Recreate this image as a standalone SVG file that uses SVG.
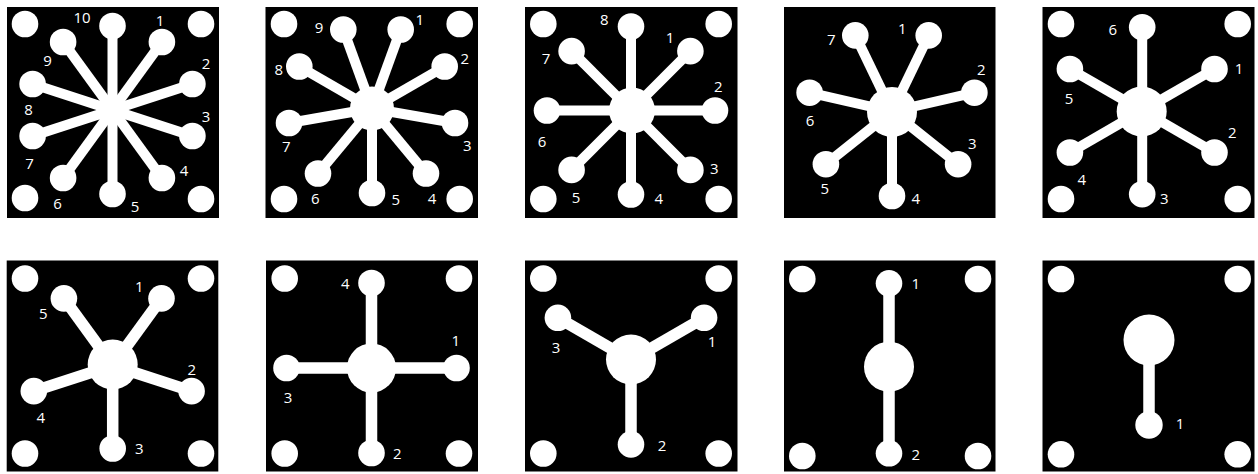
<svg xmlns="http://www.w3.org/2000/svg" width="1258" height="474" viewBox="0 0 1258 474">
<style>
.bg{fill:#fff}
.panel{fill:#000}
.dot{fill:#fff}
.hub{fill:#fff}
.sp{stroke:#fff;stroke-width:10;fill:none}
.sp2{stroke:#fff;stroke-width:11.5;fill:none}
.lbl{fill:#fff;font-family:"Open Sans","Noto Sans","DejaVu Sans",sans-serif;font-size:15px;text-anchor:middle}
</style>
<rect class="bg" x="0" y="0" width="1258" height="474"/>

<!-- Panel 1: 10 channels -->
<g id="panel-1">
<rect class="panel" x="7" y="7" width="212" height="211"/>
<circle class="dot" cx="25" cy="24" r="13.3"/><circle class="dot" cx="201" cy="24" r="13.3"/>
<circle class="dot" cx="25" cy="198" r="13.3"/><circle class="dot" cx="201" cy="199" r="13.3"/>
<g id="panel-1-connectors" class="sp">
<line x1="112.5" y1="110" x2="112.5" y2="26"/>
<line x1="112.5" y1="110" x2="161.9" y2="42"/>
<line x1="112.5" y1="110" x2="192.4" y2="84"/>
<line x1="112.5" y1="110" x2="192.4" y2="136"/>
<line x1="112.5" y1="110" x2="161.9" y2="178"/>
<line x1="112.5" y1="110" x2="112.5" y2="194"/>
<line x1="112.5" y1="110" x2="63.1" y2="178"/>
<line x1="112.5" y1="110" x2="32.6" y2="136"/>
<line x1="112.5" y1="110" x2="32.6" y2="84"/>
<line x1="112.5" y1="110" x2="63.1" y2="42"/>
</g>
<circle class="hub" cx="112.5" cy="110" r="14"/>
<circle class="dot" cx="112.5" cy="26" r="13.3"/><circle class="dot" cx="161.9" cy="42" r="13.3"/>
<circle class="dot" cx="192.4" cy="84" r="13.3"/><circle class="dot" cx="192.4" cy="136" r="13.3"/>
<circle class="dot" cx="161.9" cy="178" r="13.3"/><circle class="dot" cx="112.5" cy="194" r="13.3"/>
<circle class="dot" cx="63.1" cy="178" r="13.3"/><circle class="dot" cx="32.6" cy="136" r="13.3"/>
<circle class="dot" cx="32.6" cy="84" r="13.3"/><circle class="dot" cx="63.1" cy="42" r="13.3"/>
<text class="lbl" x="82" y="23">10</text>
<text class="lbl" x="160" y="26">1</text>
<text class="lbl" x="206" y="69">2</text>
<text class="lbl" x="206" y="122">3</text>
<text class="lbl" x="184" y="176">4</text>
<text class="lbl" x="135" y="212">5</text>
<text class="lbl" x="57.5" y="209">6</text>
<text class="lbl" x="29.5" y="169">7</text>
<text class="lbl" x="28.5" y="115">8</text>
<text class="lbl" x="47.5" y="66">9</text>
</g>

<!-- Panel 2: 9 channels -->
<g id="panel-2">
<rect class="panel" x="265.5" y="7" width="212.5" height="211"/>
<circle class="dot" cx="284" cy="24" r="13.3"/><circle class="dot" cx="459.7" cy="24" r="13.3"/>
<circle class="dot" cx="284" cy="199" r="13.3"/><circle class="dot" cx="459.7" cy="199" r="13.3"/>
<g id="panel-2-connectors" class="sp">
<line x1="372" y1="108.5" x2="400.7" y2="29.5"/>
<line x1="372" y1="108.5" x2="444.7" y2="66.5"/>
<line x1="372" y1="108.5" x2="455" y2="123"/>
<line x1="372" y1="108.5" x2="426" y2="173.5"/>
<line x1="372" y1="108.5" x2="372" y2="193"/>
<line x1="372" y1="108.5" x2="318" y2="173.5"/>
<line x1="372" y1="108.5" x2="289" y2="123"/>
<line x1="372" y1="108.5" x2="299.3" y2="66.5"/>
<line x1="372" y1="108.5" x2="343.3" y2="29.5"/>
</g>
<circle class="hub" cx="372" cy="108.5" r="22"/>
<circle class="dot" cx="400.7" cy="29.5" r="13.3"/><circle class="dot" cx="444.7" cy="66.5" r="13.3"/>
<circle class="dot" cx="455" cy="123" r="13.3"/><circle class="dot" cx="426" cy="173.5" r="13.3"/>
<circle class="dot" cx="372" cy="193" r="13.3"/><circle class="dot" cx="318" cy="173.5" r="13.3"/>
<circle class="dot" cx="289" cy="123" r="13.3"/><circle class="dot" cx="299.3" cy="66.5" r="13.3"/>
<circle class="dot" cx="343.3" cy="29.5" r="13.3"/>
<text class="lbl" x="419.7" y="25">1</text>
<text class="lbl" x="464.7" y="64">2</text>
<text class="lbl" x="467.3" y="151">3</text>
<text class="lbl" x="432" y="204">4</text>
<text class="lbl" x="395.7" y="205">5</text>
<text class="lbl" x="315.3" y="204">6</text>
<text class="lbl" x="286.3" y="152">7</text>
<text class="lbl" x="278.7" y="75">8</text>
<text class="lbl" x="319" y="33">9</text>
</g>

<!-- Panel 3: 8 channels -->
<g id="panel-3">
<rect class="panel" x="525" y="7" width="212.5" height="211"/>
<circle class="dot" cx="543.3" cy="24" r="13.3"/><circle class="dot" cx="718.7" cy="24" r="13.3"/>
<circle class="dot" cx="543.3" cy="199" r="13.3"/><circle class="dot" cx="718.7" cy="199" r="13.3"/>
<g id="panel-3-connectors" class="sp">
<line x1="631" y1="110.5" x2="631" y2="26.5"/>
<line x1="631" y1="110.5" x2="690.4" y2="51.1"/>
<line x1="631" y1="110.5" x2="715" y2="110.5"/>
<line x1="631" y1="110.5" x2="690.4" y2="169.9"/>
<line x1="631" y1="110.5" x2="631" y2="194.5"/>
<line x1="631" y1="110.5" x2="571.6" y2="169.9"/>
<line x1="631" y1="110.5" x2="547" y2="110.5"/>
<line x1="631" y1="110.5" x2="571.6" y2="51.1"/>
</g>
<circle class="hub" cx="632" cy="110.5" r="23"/>
<circle class="dot" cx="631" cy="26.5" r="13.3"/><circle class="dot" cx="690.4" cy="51.1" r="13.3"/>
<circle class="dot" cx="715" cy="110.5" r="13.3"/><circle class="dot" cx="690.4" cy="169.9" r="13.3"/>
<circle class="dot" cx="631" cy="194.5" r="13.3"/><circle class="dot" cx="571.6" cy="169.9" r="13.3"/>
<circle class="dot" cx="547" cy="110.5" r="13.3"/><circle class="dot" cx="571.6" cy="51.1" r="13.3"/>
<text class="lbl" x="604.3" y="25">8</text>
<text class="lbl" x="670" y="43">1</text>
<text class="lbl" x="718.3" y="92">2</text>
<text class="lbl" x="714.3" y="174">3</text>
<text class="lbl" x="658.7" y="203.5">4</text>
<text class="lbl" x="576" y="203">5</text>
<text class="lbl" x="542" y="147">6</text>
<text class="lbl" x="546" y="63.5">7</text>
</g>

<!-- Panel 4: 7 channels -->
<g id="panel-4">
<rect class="panel" x="784" y="7" width="211.5" height="211"/>
<g id="panel-4-connectors" class="sp">
<line x1="892" y1="111.5" x2="928.7" y2="35.4"/>
<line x1="892" y1="111.5" x2="974.4" y2="92.7"/>
<line x1="892" y1="111.5" x2="958.1" y2="164.2"/>
<line x1="892" y1="111.5" x2="892" y2="196"/>
<line x1="892" y1="111.5" x2="825.9" y2="164.2"/>
<line x1="892" y1="111.5" x2="809.6" y2="92.7"/>
<line x1="892" y1="111.5" x2="855.3" y2="35.4"/>
</g>
<circle class="hub" cx="892" cy="112" r="25"/>
<circle class="dot" cx="928.7" cy="35.4" r="13.3"/><circle class="dot" cx="974.4" cy="92.7" r="13.3"/>
<circle class="dot" cx="958.1" cy="164.2" r="13.3"/><circle class="dot" cx="892" cy="196" r="13.3"/>
<circle class="dot" cx="825.9" cy="164.2" r="13.3"/><circle class="dot" cx="809.6" cy="92.7" r="13.3"/>
<circle class="dot" cx="855.3" cy="35.4" r="13.3"/>
<text class="lbl" x="902.3" y="33.5">1</text>
<text class="lbl" x="981.3" y="75">2</text>
<text class="lbl" x="972.3" y="148.5">3</text>
<text class="lbl" x="915.7" y="204">4</text>
<text class="lbl" x="824.7" y="194">5</text>
<text class="lbl" x="810" y="126">6</text>
<text class="lbl" x="831.3" y="44.5">7</text>
</g>

<!-- Panel 5: 6 channels -->
<g id="panel-5">
<rect class="panel" x="1042.5" y="7" width="212" height="211"/>
<circle class="dot" cx="1061" cy="24" r="13.3"/><circle class="dot" cx="1237.7" cy="24" r="13.3"/>
<circle class="dot" cx="1061" cy="199" r="13.3"/><circle class="dot" cx="1237.7" cy="199" r="13.3"/>
<g id="panel-5-connectors" class="sp">
<line x1="1142.2" y1="110.7" x2="1214.5" y2="69"/>
<line x1="1142.2" y1="110.7" x2="1214.5" y2="152.5"/>
<line x1="1142.2" y1="110.7" x2="1142.2" y2="194.2"/>
<line x1="1142.2" y1="110.7" x2="1069.9" y2="152.5"/>
<line x1="1142.2" y1="110.7" x2="1069.9" y2="69"/>
<line x1="1142.2" y1="110.7" x2="1142.2" y2="27.2"/>
</g>
<circle class="hub" cx="1141.7" cy="111.5" r="25"/>
<circle class="dot" cx="1214.5" cy="69" r="13.3"/><circle class="dot" cx="1214.5" cy="152.5" r="13.3"/>
<circle class="dot" cx="1142.2" cy="194.2" r="13.3"/><circle class="dot" cx="1069.9" cy="152.5" r="13.3"/>
<circle class="dot" cx="1069.9" cy="69" r="13.3"/><circle class="dot" cx="1142.2" cy="27.2" r="13.3"/>
<text class="lbl" x="1239" y="74">1</text>
<text class="lbl" x="1232.3" y="137.5">2</text>
<text class="lbl" x="1164.3" y="204">3</text>
<text class="lbl" x="1081.7" y="185">4</text>
<text class="lbl" x="1069" y="103.5">5</text>
<text class="lbl" x="1112.7" y="35">6</text>
</g>

<!-- Panel 6: 5 channels -->
<g id="panel-6">
<rect class="panel" x="6.7" y="260.5" width="211.6" height="211"/>
<circle class="dot" cx="25" cy="278.5" r="13.3"/><circle class="dot" cx="201" cy="278.5" r="13.3"/>
<circle class="dot" cx="25" cy="453.5" r="13.3"/><circle class="dot" cx="201" cy="453.5" r="13.3"/>
<g id="panel-6-connectors" class="sp2">
<line x1="112.7" y1="365.5" x2="161.5" y2="298.4"/>
<line x1="112.7" y1="365.5" x2="191.6" y2="391.1"/>
<line x1="112.7" y1="365.5" x2="112.7" y2="448.5"/>
<line x1="112.7" y1="365.5" x2="33.8" y2="391.1"/>
<line x1="112.7" y1="365.5" x2="63.9" y2="298.4"/>
</g>
<circle class="hub" cx="112.7" cy="364.5" r="25"/>
<circle class="dot" cx="161.5" cy="298.4" r="13.3"/><circle class="dot" cx="191.6" cy="391.1" r="13.3"/>
<circle class="dot" cx="112.7" cy="448.5" r="13.3"/><circle class="dot" cx="33.8" cy="391.1" r="13.3"/>
<circle class="dot" cx="63.9" cy="298.4" r="13.3"/>
<text class="lbl" x="139.3" y="292">1</text>
<text class="lbl" x="191.7" y="374.5">2</text>
<text class="lbl" x="139.3" y="453.5">3</text>
<text class="lbl" x="40.7" y="423">4</text>
<text class="lbl" x="43.3" y="319">5</text>
</g>

<!-- Panel 7: 4 channels -->
<g id="panel-7">
<rect class="panel" x="266" y="260.5" width="212" height="211"/>
<circle class="dot" cx="284.7" cy="278.5" r="13.3"/><circle class="dot" cx="459" cy="278.5" r="13.3"/>
<circle class="dot" cx="284.7" cy="453.5" r="13.3"/><circle class="dot" cx="459" cy="453.5" r="13.3"/>
<g id="panel-7-connectors" class="sp2">
<line x1="371.5" y1="368" x2="456.5" y2="368"/>
<line x1="371.5" y1="368" x2="371.5" y2="453"/>
<line x1="371.5" y1="368" x2="286.5" y2="368"/>
<line x1="371.5" y1="368" x2="371.5" y2="283"/>
</g>
<circle class="hub" cx="371.5" cy="368" r="24.5"/>
<circle class="dot" cx="456.5" cy="368" r="13.3"/><circle class="dot" cx="371.5" cy="453" r="13.3"/>
<circle class="dot" cx="286.5" cy="368" r="13.3"/><circle class="dot" cx="371.5" cy="283" r="13.3"/>
<text class="lbl" x="455.7" y="346">1</text>
<text class="lbl" x="397.3" y="459">2</text>
<text class="lbl" x="288" y="402.5">3</text>
<text class="lbl" x="345.3" y="288.5">4</text>
</g>

<!-- Panel 8: 3 channels -->
<g id="panel-8">
<rect class="panel" x="525" y="260.5" width="212.5" height="211"/>
<circle class="dot" cx="543.3" cy="278.5" r="13.3"/><circle class="dot" cx="718.7" cy="278.5" r="13.3"/>
<circle class="dot" cx="543.3" cy="453.5" r="13.3"/><circle class="dot" cx="718.7" cy="453.5" r="13.3"/>
<g id="panel-8-connectors" class="sp2">
<line x1="631" y1="360" x2="704.1" y2="317.8"/>
<line x1="631" y1="360" x2="631" y2="444.4"/>
<line x1="631" y1="360" x2="557.9" y2="317.8"/>
</g>
<circle class="hub" cx="631" cy="359.5" r="25"/>
<circle class="dot" cx="704.1" cy="317.8" r="13.3"/><circle class="dot" cx="631" cy="444.4" r="13.3"/>
<circle class="dot" cx="557.9" cy="317.8" r="13.3"/>
<text class="lbl" x="712" y="347">1</text>
<text class="lbl" x="662" y="451">2</text>
<text class="lbl" x="556" y="352.5">3</text>
</g>

<!-- Panel 9: 2 channels -->
<g id="panel-9">
<rect class="panel" x="784" y="260.5" width="211.5" height="211"/>
<circle class="dot" cx="802.3" cy="279" r="13.3"/><circle class="dot" cx="978" cy="279" r="13.3"/>
<circle class="dot" cx="802.3" cy="456" r="13.3"/><circle class="dot" cx="978" cy="456" r="13.3"/>
<g id="panel-9-connectors" class="sp2">
<line x1="889" y1="367" x2="889" y2="283.3"/>
<line x1="889" y1="367" x2="889" y2="453.3"/>
</g>
<circle class="hub" cx="889" cy="366.7" r="25"/>
<circle class="dot" cx="889" cy="283.3" r="13.3"/><circle class="dot" cx="889" cy="453.3" r="13.3"/>
<text class="lbl" x="915.7" y="289">1</text>
<text class="lbl" x="915.7" y="460">2</text>
</g>

<!-- Panel 10: 1 channel -->
<g id="panel-10">
<rect class="panel" x="1042.5" y="260.5" width="212" height="211"/>
<circle class="dot" cx="1061" cy="279" r="13.3"/><circle class="dot" cx="1237.7" cy="279" r="13.3"/>
<circle class="dot" cx="1061" cy="454.3" r="13.3"/><circle class="dot" cx="1237.7" cy="454.3" r="13.3"/>
<g id="panel-10-connectors" class="sp2">
<line x1="1149" y1="340" x2="1149" y2="425"/>
</g>
<circle class="hub" cx="1149" cy="340" r="25.5"/>
<circle class="dot" cx="1149" cy="425" r="13.7"/>
<text class="lbl" x="1180" y="429">1</text>
</g>
</svg>
